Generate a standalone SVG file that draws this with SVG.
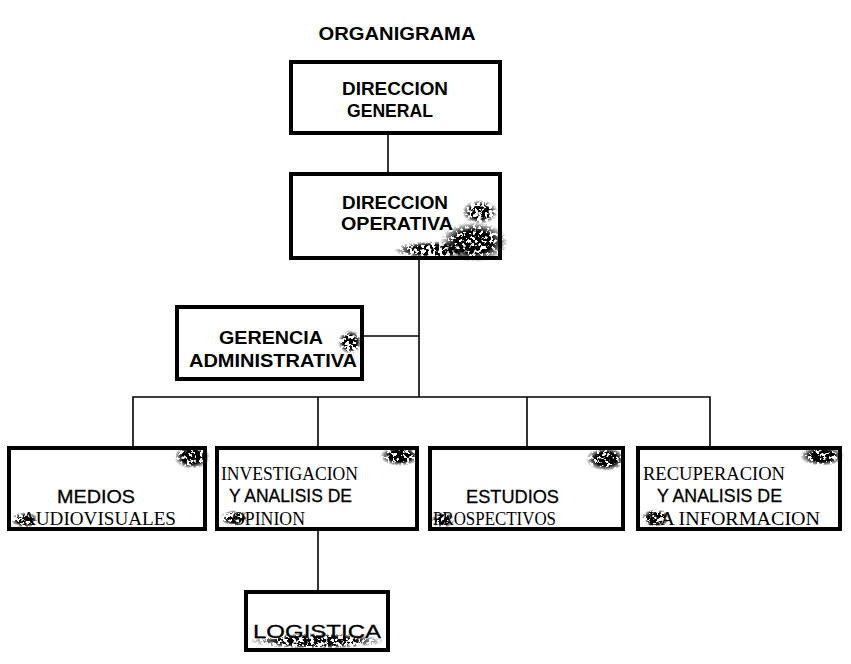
<svg xmlns="http://www.w3.org/2000/svg" width="851" height="664" viewBox="0 0 851 664">
<style>
.box{fill:#fff;stroke:#000;stroke-width:4}
.ln{fill:none;stroke:#000;stroke-width:1.6}
.s{font-family:"Liberation Sans",Arial,sans-serif;font-weight:bold;font-size:18px;fill:#000}
.sn{font-family:"Liberation Sans",Arial,sans-serif;font-size:18px;fill:#000;stroke:#000;stroke-width:0.3}
.r{font-family:"Liberation Serif","Times New Roman",serif;font-size:18px;fill:#000}
.nz{fill:url(#fade);filter:url(#speck)}
.nd{fill:url(#fade);filter:url(#dense)}
</style>
<defs>
<radialGradient id="fade">
<stop offset="0" stop-color="#000" stop-opacity="1"/>
<stop offset="0.55" stop-color="#000" stop-opacity="1"/>
<stop offset="1" stop-color="#000" stop-opacity="0"/>
</radialGradient>
<filter id="speck" x="0" y="0" width="100%" height="100%">
<feTurbulence type="fractalNoise" baseFrequency="0.28" numOctaves="3" seed="11" result="n"/>
<feColorMatrix in="n" type="matrix" values="0 0 0 0 0  0 0 0 0 0  0 0 0 0 0  16 0 0 0 -7.2" result="a"/>
<feComposite in="a" in2="SourceGraphic" operator="in"/>
</filter>
<filter id="dense" x="0" y="0" width="100%" height="100%">
<feTurbulence type="fractalNoise" baseFrequency="0.3" numOctaves="3" seed="5" result="n"/>
<feColorMatrix in="n" type="matrix" values="0 0 0 0 0  0 0 0 0 0  0 0 0 0 0  16 0 0 0 -6.2" result="a"/>
<feComposite in="a" in2="SourceGraphic" operator="in"/>
</filter>
</defs>
<rect width="851" height="664" fill="#fff"/>
<text x="397" y="40" text-anchor="middle" class="s" textLength="157" lengthAdjust="spacingAndGlyphs">ORGANIGRAMA</text>
<g id="connectors">
<path class="ln" d="M388 133V174"/>
<path class="ln" d="M419 258V397"/>
<path class="ln" d="M362 336H419"/>
<path class="ln" d="M133 448V397H710V448"/>
<path class="ln" d="M318 397V448"/>
<path class="ln" d="M527 397V448"/>
<path class="ln" d="M318 529V592"/>
</g>
<g id="direccion-general">
<rect class="box" x="291" y="62" width="209" height="71"/>
<text class="s" x="342" y="95" textLength="106" lengthAdjust="spacingAndGlyphs">DIRECCION</text>
<text class="s" x="347" y="117" textLength="86" lengthAdjust="spacingAndGlyphs">GENERAL</text>
</g>
<g id="direccion-operativa">
<rect class="box" x="291" y="174" width="209" height="84"/>
<ellipse class="nd" cx="474" cy="242" rx="34" ry="20"/>
<ellipse class="nz" cx="435" cy="250" rx="42" ry="9"/>
<ellipse class="nz" cx="480" cy="212" rx="18" ry="12"/>
<text class="s" x="342" y="209" textLength="106" lengthAdjust="spacingAndGlyphs">DIRECCION</text>
<text class="s" x="341" y="230" textLength="112" lengthAdjust="spacingAndGlyphs">OPERATIVA</text>
</g>
<g id="gerencia-administrativa">
<rect class="box" x="177" y="307" width="185" height="72"/>
<ellipse class="nz" cx="350" cy="342" rx="12" ry="12"/>
<text class="s" x="219" y="344" textLength="104" lengthAdjust="spacingAndGlyphs">GERENCIA</text>
<text class="s" x="189" y="367" textLength="168" lengthAdjust="spacingAndGlyphs">ADMINISTRATIVA</text>
</g>
<g id="medios-audiovisuales">
<rect class="box" x="9" y="448" width="196" height="81"/>
<ellipse class="nd" cx="192" cy="457" rx="18" ry="12"/>
<ellipse class="nz" cx="25" cy="520" rx="14" ry="8"/>
<text class="sn" x="57" y="503" textLength="78" lengthAdjust="spacingAndGlyphs">MEDIOS</text>
<text class="r" x="22" y="525" textLength="154" lengthAdjust="spacingAndGlyphs">AUDIOVISUALES</text>
</g>
<g id="investigacion">
<rect class="box" x="217" y="448" width="200" height="81"/>
<ellipse class="nd" cx="400" cy="456" rx="20" ry="10"/>
<ellipse class="nz" cx="235" cy="518" rx="15" ry="8"/>
<text class="r" x="221" y="480" textLength="137" lengthAdjust="spacingAndGlyphs">INVESTIGACION</text>
<text class="sn" x="229" y="502" textLength="123" lengthAdjust="spacingAndGlyphs">Y ANALISIS DE</text>
<text class="r" x="232" y="525" textLength="73" lengthAdjust="spacingAndGlyphs">OPINION</text>
</g>
<g id="estudios-prospectivos">
<rect class="box" x="430" y="448" width="193" height="81"/>
<ellipse class="nd" cx="606" cy="459" rx="20" ry="12"/>
<ellipse class="nz" cx="443" cy="520" rx="12" ry="8"/>
<text class="sn" x="466" y="503" textLength="93" lengthAdjust="spacingAndGlyphs">ESTUDIOS</text>
<text class="r" x="433" y="525" textLength="123" lengthAdjust="spacingAndGlyphs">PROSPECTIVOS</text>
</g>
<g id="recuperacion">
<rect class="box" x="638" y="448" width="202" height="81"/>
<ellipse class="nd" cx="822" cy="456" rx="22" ry="10"/>
<ellipse class="nz" cx="656" cy="518" rx="15" ry="9"/>
<text class="r" x="643" y="480" textLength="142" lengthAdjust="spacingAndGlyphs">RECUPERACION</text>
<text class="sn" x="657" y="502" textLength="125" lengthAdjust="spacingAndGlyphs">Y ANALISIS DE</text>
<text class="r" x="648" y="525" textLength="172" lengthAdjust="spacingAndGlyphs">LA INFORMACION</text>
</g>
<g id="logistica">
<rect class="box" x="246" y="592" width="142" height="58"/>
<ellipse class="nz" cx="317" cy="641" rx="68" ry="8"/>
<text class="sn" x="253" y="638" textLength="128" lengthAdjust="spacingAndGlyphs">LOGISTICA</text>
</g>
</svg>
